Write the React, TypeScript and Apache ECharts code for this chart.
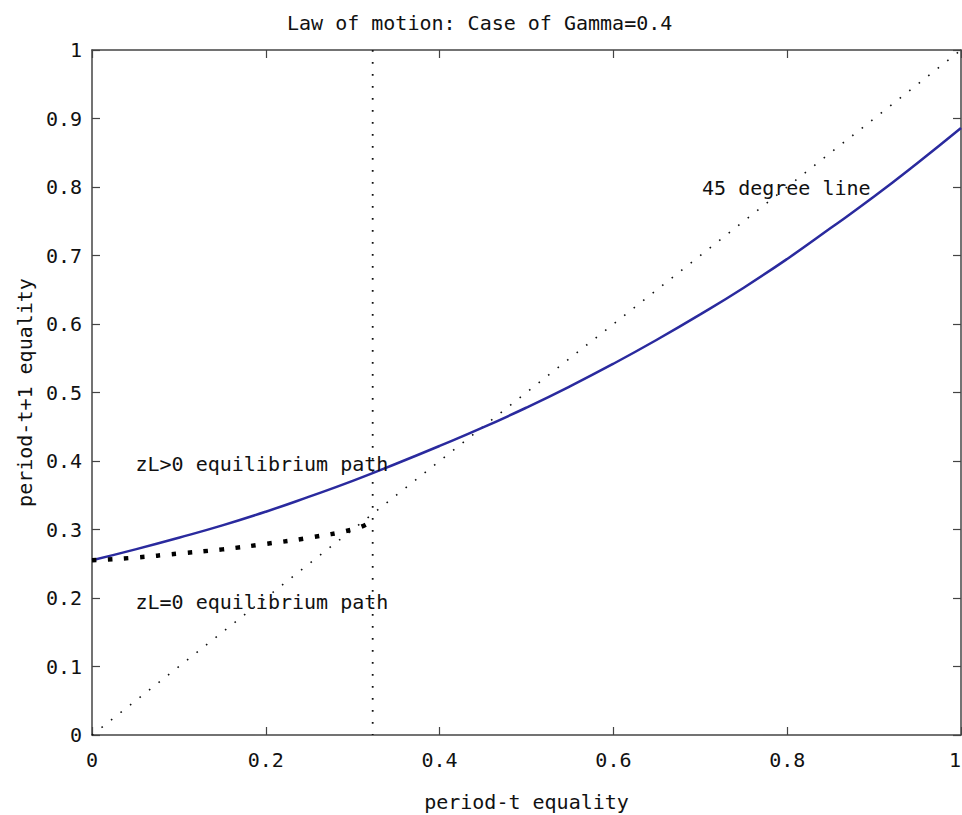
import React, { useEffect, useRef } from "react";
import * as echarts from "echarts";

const chartTitle = "Law of motion: Case of Gamma=0.4";
const xAxisName = "period-t equality";
const yAxisName = "period-t+1 equality";

// zL>0 equilibrium path (blue solid)
const positiveX = [0, 0.05, 0.1, 0.15, 0.2, 0.25, 0.3, 0.35, 0.4, 0.45, 0.5, 0.55, 0.6, 0.65, 0.7, 0.75, 0.8, 0.85, 0.9, 0.95, 1.0];
const positiveY = [0.255, 0.271, 0.288, 0.306, 0.326, 0.348, 0.371, 0.396, 0.422, 0.449, 0.478, 0.509, 0.542, 0.577, 0.614, 0.653, 0.695, 0.74, 0.786, 0.835, 0.886];

// zL=0 equilibrium path (thick black dotted)
const zeroX = [0, 0.05, 0.1, 0.15, 0.2, 0.25, 0.3, 0.315];
const zeroY = [0.255, 0.259, 0.265, 0.271, 0.279, 0.288, 0.3, 0.307];

// 45 degree line
const diagX = [0, 1];
const diagY = [0, 1];

// vertical threshold line
const thresholdX = 0.323;

const annotationTexts = ["zL>0 equilibrium path", "zL=0 equilibrium path", "45 degree line"];
const annotationX = [0.05, 0.05, 0.702];
const annotationY = [0.396, 0.194, 0.799];

const FONT = "'DejaVu Sans Mono', 'Liberation Mono', monospace";

function pairs(xs: number[], ys: number[]) {
  return xs.map((x, i) => [x, ys[i]]);
}

export default function App() {
  const ref = useRef<HTMLDivElement>(null);

  useEffect(() => {
    if (!ref.current) return;
    const chart = echarts.init(ref.current, null, { renderer: "svg" });

    const axisLine = { show: true, onZero: false, lineStyle: { color: "#444", width: 1.5 } };
    const axisTick = { show: true, inside: true, length: 8, lineStyle: { color: "#444", width: 1.2 } };
    const labelStyle = { color: "#111", fontFamily: FONT, fontSize: 20 };

    const fmt = (v: number) => (v === 0 ? "0" : v === 1 ? "1" : String(Math.round(v * 10) / 10));

    chart.setOption({
      animation: false,
      backgroundColor: "#fff",
      title: {
        text: chartTitle,
        left: 282,
        top: 8,
        textStyle: { color: "#111", fontFamily: FONT, fontSize: 20, fontWeight: "normal" },
      },
      grid: { left: 92, right: 1, top: 50, bottom: 80, containLabel: false, outerBoundsMode: "none" },
      xAxis: [
        {
          type: "value",
          min: 0,
          max: 1,
          interval: 0.2,
          position: "bottom",
          axisLine,
          axisTick,
          splitLine: { show: false },
          axisLabel: { ...labelStyle, margin: 15, formatter: fmt, alignMaxLabel: "right" },
          name: xAxisName,
          nameLocation: "middle",
          nameGap: 57,
          nameTextStyle: { color: "#111", fontFamily: FONT, fontSize: 20 },
        },
        {
          type: "value",
          min: 0,
          max: 1,
          interval: 0.2,
          position: "top",
          axisLine,
          axisTick,
          splitLine: { show: false },
          axisLabel: { show: false },
        },
      ],
      yAxis: [
        {
          type: "value",
          min: 0,
          max: 1,
          interval: 0.1,
          position: "left",
          axisLine,
          axisTick,
          splitLine: { show: false },
          axisLabel: { ...labelStyle, margin: 10, formatter: fmt },
          name: yAxisName,
          nameLocation: "middle",
          nameGap: 56,
          nameRotate: 90,
          nameTextStyle: { color: "#111", fontFamily: FONT, fontSize: 20 },
        },
        {
          type: "value",
          min: 0,
          max: 1,
          interval: 0.1,
          position: "right",
          axisLine,
          axisTick,
          splitLine: { show: false },
          axisLabel: { show: false },
        },
      ],
      series: [
        {
          name: "45 degree line",
          type: "line",
          data: pairs(diagX, diagY),
          symbol: "none",
          lineStyle: { color: "#111", width: 1.6, type: [1.6, 10.5] },
          z: 2,
        },
        {
          name: "threshold",
          type: "line",
          data: [
            [thresholdX, 1],
            [thresholdX, 0],
          ],
          symbol: "none",
          lineStyle: { color: "#111", width: 1.8, type: [1.8, 10.2] },
          z: 2,
        },
        {
          name: "zL>0 equilibrium path",
          type: "line",
          data: pairs(positiveX, positiveY),
          symbol: "none",
          smooth: true,
          lineStyle: { color: "#2a2a9e", width: 2.5 },
          z: 3,
        },
        {
          name: "zL=0 equilibrium path",
          type: "line",
          data: pairs(zeroX, zeroY),
          symbol: "none",
          smooth: true,
          lineStyle: { color: "#000", width: 4.5, type: [4.5, 11.5], cap: "butt" },
          z: 4,
        },
      ],
    });

    const graphics: any[] = annotationTexts.map((t, i) => {
      const p = chart.convertToPixel({ gridIndex: 0 }, [annotationX[i], annotationY[i]]) as number[];
      return {
        type: "text",
        x: p[0],
        y: p[1],
        z: 10,
        style: {
          text: t,
          fill: "#111",
          font: `20px ${FONT}`,
          textAlign: "left",
          textVerticalAlign: "middle",
        },
      };
    });
    chart.setOption({ graphic: graphics });

    return () => chart.dispose();
  }, []);

  return (
    <div
      ref={ref}
      style={{ position: "fixed", left: 0, top: 0, width: 962, height: 815, background: "#fff" }}
    />
  );
}
